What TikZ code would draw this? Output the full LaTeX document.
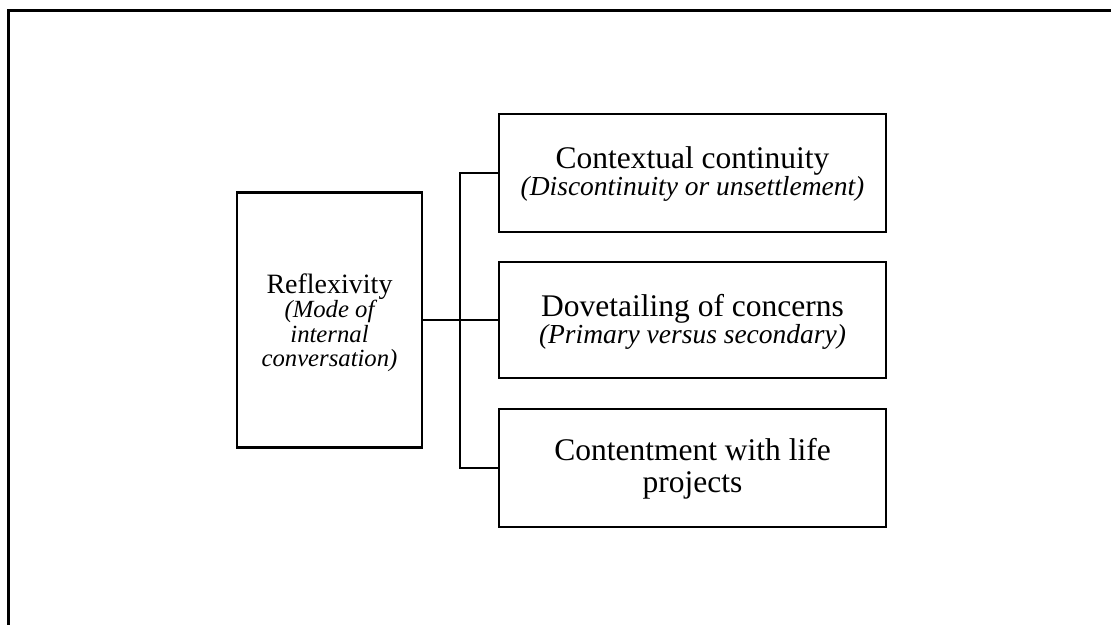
\documentclass[tikz,border=0pt]{standalone}
\usepackage{fontspec}
\setmainfont{Liberation Serif}
\begin{document}
\begin{tikzpicture}[x=1pt,y=-1pt,
  frame/.style={line width=2.8pt,line cap=rect},
  box/.style={draw,line width=2.3pt,rectangle,inner sep=0pt},
  link/.style={line width=2.3pt},
  lefthead/.style={anchor=base,inner sep=0pt,font=\fontsize{28}{28}\selectfont},
  leftsub/.style={anchor=base,inner sep=0pt,font=\fontsize{24.7}{24.7}\selectfont\itshape},
  head/.style={anchor=base,inner sep=0pt,font=\fontsize{31.5}{31.5}\selectfont},
  sub/.style={anchor=base,inner sep=0pt,font=\fontsize{27.5}{27.5}\selectfont\itshape}]
\useasboundingbox (0,0) rectangle (1111,624);

% outer frame, running past the right and bottom edges
\begin{scope}
  \clip (0,0) rectangle (1111,624);
  \draw[frame] (8.5,640) -- (8.5,10.2) -- (1130,10.2);
\end{scope}

% boxes
\node[box,minimum width=185pt,minimum height=255pt] (refl) at (329.5,320) {};
\node[box,minimum width=387pt,minimum height=118pt] (cont) at (692.5,173) {};
\node[box,minimum width=387pt,minimum height=116pt] (dove) at (692.5,320) {};
\node[box,minimum width=387pt,minimum height=118pt] (life) at (692.5,468) {};

% text of the boxes
\node[lefthead] (reflA) at (329.5,293) {Reflexivity};
\node[leftsub]  (reflB) at (329.5,317) {(Mode of};
\node[leftsub]  (reflC) at (329.5,342) {internal};
\node[leftsub]  (reflD) at (329.5,366) {conversation)};

\node[head] (contA) at (692.5,168) {Contextual continuity};
\node[sub]  (contB) at (692.5,195) {(Discontinuity or unsettlement)};

\node[head] (doveA) at (692.5,316) {Dovetailing of concerns};
\node[sub]  (doveB) at (692.5,343) {(Primary versus secondary)};

\node[head] (lifeA) at (692.5,460) {Contentment with life};
\node[head] (lifeB) at (692.5,492) {projects};

% bracket connectors
\coordinate (bus) at (460,320);
\draw[link] (refl.east) -- (dove.west);
\draw[link] (cont.west) -- (cont.west -| bus) -- (life.west -| bus) -- (life.west);
\end{tikzpicture}
\end{document}
